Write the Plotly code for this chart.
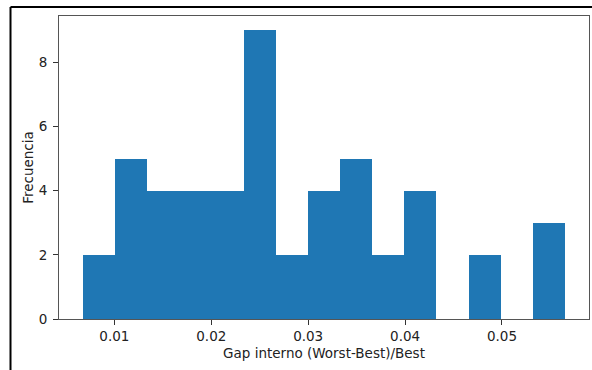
import plotly.graph_objects as go

# Histogram data
counts = [2, 5, 4, 4, 4, 9, 2, 4, 5, 2, 4, 0, 2, 0, 3]
bin_start = 0.00677
bin_width = 0.003315
x_ticks = [0.01, 0.02, 0.03, 0.04, 0.05]
x_tick_labels = ["0.01", "0.02", "0.03", "0.04", "0.05"]
y_ticks = [0, 2, 4, 6, 8]

n = len(counts)
centers = [bin_start + bin_width * (i + 0.5) for i in range(n)]
x_lo = bin_start
x_hi = bin_start + bin_width * n
pad = 0.05 * (x_hi - x_lo)
ymax = max(counts) * 1.05

fig = go.Figure(go.Bar(
    x=centers, y=counts, width=[bin_width] * n,
    marker=dict(color="#1f77b4", line=dict(width=0)),
))

W, H = 592, 370
ml, mr, mt, mb = 59, 3, 16, 51
pw, ph = W - ml - mr, H - mt - mb

font = "DejaVu Sans, sans-serif"
fs = 13.5
fig.update_layout(
    width=W, height=H,
    margin=dict(l=ml, r=mr, t=mt, b=mb, pad=0),
    paper_bgcolor="white", plot_bgcolor="white",
    showlegend=False,
    bargap=0,
    font=dict(family=font, size=fs, color="#222"),
    xaxis=dict(
        range=[x_lo - pad, x_hi + pad],
        tickvals=x_ticks, ticktext=x_tick_labels,
        ticks="outside", ticklen=5, tickwidth=1, tickcolor="#333",
        showline=True, linecolor="#555", linewidth=1, mirror=True,
        showgrid=False, zeroline=False,
        title=dict(text="Gap interno (Worst-Best)/Best", standoff=5,
                   font=dict(family=font, size=fs, color="#222")),
    ),
    yaxis=dict(
        range=[0, ymax],
        tickvals=y_ticks,
        ticks="outside", ticklen=5, tickwidth=1, tickcolor="#333",
        ticklabelstandoff=3,
        showline=True, linecolor="#555", linewidth=1, mirror=True,
        showgrid=False, zeroline=False,
        title=dict(text="Frecuencia", standoff=1,
                   font=dict(family=font, size=fs, color="#222")),
    ),
)

# outer screenshot frame (left and top black lines)
def px_x(p):
    return (p - ml) / pw

def px_y(p):
    return 1 - (p - mt) / ph

fig.add_shape(type="line", xref="paper", yref="paper",
              x0=px_x(10.5), x1=px_x(600), y0=px_y(7), y1=px_y(7),
              line=dict(color="black", width=2))
fig.add_shape(type="line", xref="paper", yref="paper",
              x0=px_x(10.5), x1=px_x(10.5), y0=px_y(7), y1=px_y(380),
              line=dict(color="black", width=2))

fig.write_html("out.html")
